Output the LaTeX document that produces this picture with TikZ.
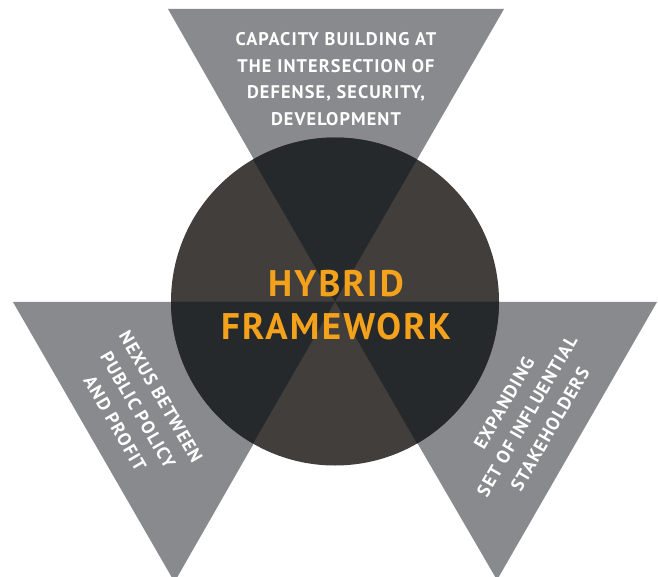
\documentclass[tikz,border=0pt]{standalone}
\usepackage{fontspec}
\setmainfont{PT Sans}
\newfontfamily\lblfont[LetterSpace=6]{PT Sans}
\newfontfamily\titlefont[LetterSpace=6]{PT Sans}
\definecolor{trigray}{HTML}{898A8D}
\definecolor{seclight}{HTML}{413E3C}
\definecolor{secdark}{HTML}{26292B}
\definecolor{hyorange}{HTML}{F4A21C}
\tikzset{
  tri/.style={fill=trigray},
  lightsec/.style={fill=seclight},
  darksec/.style={fill=secdark},
  lbl/.style={text=white, align=center, font=\lblfont\bfseries\fontsize{18.3}{26.5}\selectfont, inner sep=0pt},
  titlelbl/.style={text=hyorange, align=center, font=\titlefont\bfseries\fontsize{37}{43}\selectfont, inner sep=0pt}
}
\begin{document}
\begin{tikzpicture}[x=1pt,y=-1pt]
\useasboundingbox (0,0) rectangle (658,577);
\fill[white] (0,0) rectangle (658,577);
\clip (0,0) rectangle (658,577);
\coordinate (C) at (335,301.5);
% triangles
\fill[tri] (168,9) -- (504,9) -- (C) -- cycle;
\fill[tri] (13,302) -- (C) -- (174.5,582) -- cycle;
\fill[tri] (C) -- (657,302) -- (497,580) -- cycle;
% circle with sectors
\fill[lightsec] (C) circle (164);
\fill[darksec] (C) -- ++(-120:164) arc[start angle=-120, end angle=-60, radius=164] -- cycle;
\fill[darksec] (C) -- ++(120:164) arc[start angle=120, end angle=180, radius=164] -- cycle;
\fill[darksec] (C) -- ++(0:164) arc[start angle=0, end angle=60, radius=164] -- cycle;
% labels
\node[lbl] (top) at (336,79) {CAPACITY BUILDING AT\\THE INTERSECTION OF\\DEFENSE, SECURITY,\\DEVELOPMENT};
\node[titlelbl] (title) at (336,305) {HYBRID\\FRAMEWORK};
\node[lbl, rotate=-60] (left) at (138,410) {NEXUS BETWEEN\\PUBLIC POLICY\\AND PROFIT};
\node[lbl, rotate=60] (right) at (527,416) {EXPANDING\\SET OF INFLUENTIAL\\STAKEHOLDERS};
\end{tikzpicture}
\end{document}
